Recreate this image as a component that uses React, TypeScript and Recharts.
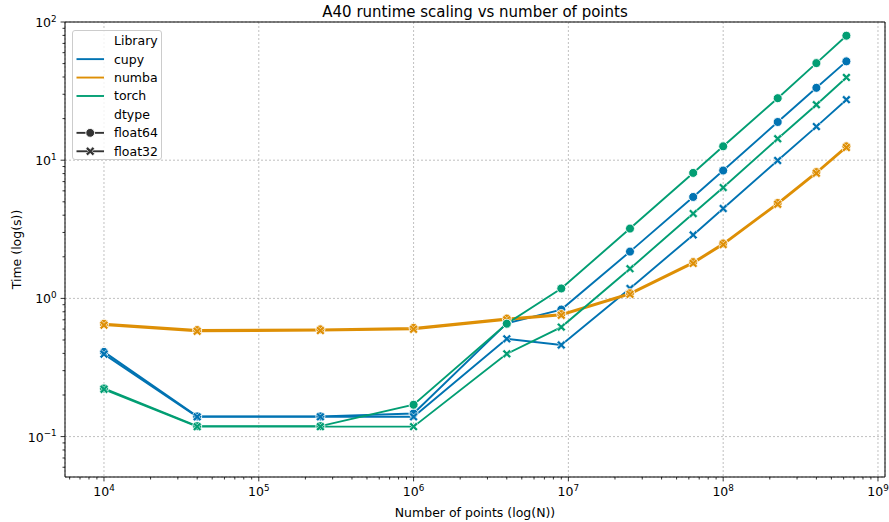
import { LineChart, Line, XAxis, YAxis, CartesianGrid, ReferenceArea } from 'recharts';

// problem sizes (N = side^2)
const nPoints = [1e4, 4e4, 2.5e5, 1e6, 4e6, 9e6, 2.5e7, 6.4e7, 1e8, 2.25e8, 4e8, 6.25e8];

// runtime in seconds
const cupyF64 = [0.41, 0.14, 0.14, 0.147, 0.66, 0.83, 2.18, 5.42, 8.42, 18.9, 33.4, 51.9];
const cupyF32 = [0.395, 0.139, 0.139, 0.139, 0.51, 0.46, 1.18, 2.88, 4.47, 9.95, 17.5, 27.4];
const numbaF64 = [0.655, 0.59, 0.597, 0.612, 0.715, 0.77, 1.09, 1.83, 2.5, 4.9, 8.2, 12.6];
const numbaF32 = [0.64, 0.578, 0.585, 0.598, 0.7, 0.755, 1.07, 1.79, 2.45, 4.8, 8.05, 12.35];
const torchF64 = [0.223, 0.119, 0.119, 0.17, 0.656, 1.18, 3.2, 8.09, 12.6, 28.1, 50.4, 79.6];
const torchF32 = [0.22, 0.118, 0.118, 0.118, 0.397, 0.62, 1.64, 4.11, 6.34, 14.3, 25.2, 39.7];

const xMajor = [1e4, 1e5, 1e6, 1e7, 1e8, 1e9];
const yMajor = [0.1, 1, 10, 100];
const xDomain = [5600, 1.11e9];
const yDomain = [0.051, 100];

const minorOf = (decades: number[], lo: number, hi: number) =>
  decades.flatMap((d) => [2, 3, 4, 5, 6, 7, 8, 9].map((m) => m * d)).filter((v) => v > lo && v < hi);
const xMinor = minorOf([1e3, 1e4, 1e5, 1e6, 1e7, 1e8, 1e9], xDomain[0], xDomain[1]);
const yMinor = minorOf([0.01, 0.1, 1, 10], yDomain[0], yDomain[1]);

const BLUE = '#0173b2';
const ORANGE = '#de8f05';
const GREEN = '#029e73';
const FONT = '"DejaVu Sans", sans-serif';

const data = nPoints.map((n, i) => ({
  n,
  cupy64: cupyF64[i],
  cupy32: cupyF32[i],
  numba64: numbaF64[i],
  numba32: numbaF32[i],
  torch64: torchF64[i],
  torch32: torchF32[i],
}));

const isMajor = (v: number) => {
  const e = Math.log10(v);
  return Math.abs(e - Math.round(e)) < 1e-6;
};
const expLabel = (v: number) => {
  const e = Math.round(Math.log10(v));
  return e < 0 ? '\u2212' + Math.abs(e) : String(e);
};

const XTick = ({ x, y, payload }: any) => {
  const major = isMajor(payload.value);
  return (
    <g>
      <line x1={x} x2={x} y1={y} y2={y + (major ? 4.4 : 2.5)} stroke="#000" strokeWidth={0.8} />
      {major && (
        <text x={x} y={y + 19} textAnchor="middle" fontSize={12.5} fontFamily={FONT} fill="#000">
          10<tspan dy={-5.3} fontSize={8.8}>{expLabel(payload.value)}</tspan>
        </text>
      )}
    </g>
  );
};

const YTick = ({ x, y, payload }: any) => {
  const major = isMajor(payload.value);
  return (
    <g>
      <line x1={x} x2={x - (major ? 4.4 : 2.5)} y1={y} y2={y} stroke="#000" strokeWidth={0.8} />
      {major && (
        <text x={x - 8.3} y={y + 5} textAnchor="end" fontSize={12.5} fontFamily={FONT} fill="#000">
          10<tspan dy={-5.3} fontSize={8.8}>{expLabel(payload.value)}</tspan>
        </text>
      )}
    </g>
  );
};

const crossPath = (cx: number, cy: number, L = 4.9, h = 1.35) => {
  const pts = [
    [h, L], [h, h], [L, h], [L, -h], [h, -h], [h, -L],
    [-h, -L], [-h, -h], [-L, -h], [-L, h], [-h, h], [-h, L],
  ];
  const c = Math.SQRT1_2;
  return (
    pts
      .map(([px, py], i) => `${i ? 'L' : 'M'}${cx + (px - py) * c},${cy + (px + py) * c}`)
      .join(' ') + ' Z'
  );
};

const crossDot = (color: string) => (props: any) => {
  const { cx, cy, index } = props;
  if (cx == null || cy == null) return <g key={index} />;
  return <path key={index} d={crossPath(cx, cy)} fill={color} stroke="#fff" strokeWidth={0.6} />;
};

const circleDot = (color: string) => ({ r: 4.5, fill: color, stroke: '#fff', strokeWidth: 0.9 });

const series = [
  { key: 'cupy64', color: BLUE, f64: true },
  { key: 'cupy32', color: BLUE, f64: false },
  { key: 'numba64', color: ORANGE, f64: true },
  { key: 'numba32', color: ORANGE, f64: false },
  { key: 'torch64', color: GREEN, f64: true },
  { key: 'torch32', color: GREEN, f64: false },
];

const Legend = () => {
  const rows = [
    { label: 'Library' },
    { label: 'cupy', color: BLUE },
    { label: 'numba', color: ORANGE },
    { label: 'torch', color: GREEN },
    { label: 'dtype' },
    { label: 'float64', color: '#333', marker: 'circle' },
    { label: 'float32', color: '#333', marker: 'cross' },
  ];
  return (
    <svg width={92} height={132} style={{ position: 'absolute', left: 72, top: 30 }}>
      <rect x={0.5} y={0.5} width={89} height={129} rx={2.5} fill="rgba(255,255,255,0.8)" stroke="#cccccc" />
      {rows.map((r, i) => {
        const cy = 10.7 + i * 18.43;
        return (
          <g key={r.label}>
            {r.color && <line x1={4.5} x2={32} y1={cy} y2={cy} stroke={r.color} strokeWidth={1.9} />}
            {r.marker === 'circle' && <circle cx={18.2} cy={cy} r={4.4} fill={r.color} stroke="#fff" strokeWidth={0.9} />}
            {r.marker === 'cross' && <path d={crossPath(18.2, cy)} fill={r.color} stroke="#fff" strokeWidth={0.6} />}
            <text x={42} y={cy + 4.5} fontSize={12.5} fontFamily={FONT} fill="#000">
              {r.label}
            </text>
          </g>
        );
      })}
    </svg>
  );
};

export default function App() {
  return (
    <div style={{ position: 'absolute', left: 0, top: 0, width: 889, height: 522, background: '#fff', fontFamily: FONT }}>
      <svg width={889} height={24} style={{ position: 'absolute', left: 0, top: 0 }}>
        <text x={475} y={16.5} textAnchor="middle" fontSize={15} fontFamily={FONT} fill="#000">
          A40 runtime scaling vs number of points
        </text>
      </svg>
      <LineChart width={889} height={522} data={data} margin={{ top: 22, right: 4, bottom: 0, left: 0 }}>
        <XAxis xAxisId="g" dataKey="n" type="number" scale="log" domain={xDomain} allowDataOverflow ticks={xMajor} hide />
        <YAxis yAxisId="g" type="number" scale="log" domain={yDomain} allowDataOverflow ticks={yMajor} hide />
        <CartesianGrid xAxisId="g" yAxisId="g" stroke="#b0b0b0" strokeWidth={0.8} strokeDasharray="2 2" />
        <XAxis
          dataKey="n"
          type="number"
          scale="log"
          domain={xDomain}
          allowDataOverflow
          ticks={[...xMajor, ...xMinor]}
          interval={0}
          height={45}
          tickSize={0}
          tickMargin={0}
          tickLine={false}
          axisLine={false}
          tick={(p: any) => <XTick {...p} />}
          label={{
            content: () => (
              <text x={475} y={516.5} textAnchor="middle" fontSize={12.5} fontFamily={FONT} fill="#000">
                Number of points (log(N))
              </text>
            ),
          }}
        />
        <YAxis
          type="number"
          scale="log"
          domain={yDomain}
          allowDataOverflow
          ticks={[...yMajor, ...yMinor]}
          interval={0}
          width={65}
          tickSize={0}
          tickMargin={0}
          tickLine={false}
          axisLine={false}
          tick={(p: any) => <YTick {...p} />}
          label={{
            content: () => (
              <text
                x={20.5}
                y={249.5}
                transform="rotate(-90 20.5 249.5)"
                textAnchor="middle"
                fontSize={12.5}
                fontFamily={FONT}
                fill="#000"
              >
                Time (log(s))
              </text>
            ),
          }}
        />
        {series.map((s) => (
          <Line
            key={s.key}
            dataKey={s.key}
            type="linear"
            stroke={s.color}
            strokeWidth={1.9}
            dot={s.f64 ? circleDot(s.color) : crossDot(s.color)}
            activeDot={false}
            isAnimationActive={false}
          />
        ))}
        <ReferenceArea
          x1={xDomain[0]}
          x2={xDomain[1]}
          y1={yDomain[0]}
          y2={yDomain[1]}
          fill="none"
          fillOpacity={0}
          stroke="#000"
          strokeWidth={1}
          ifOverflow="visible"
        />
      </LineChart>
      <Legend />
    </div>
  );
}
